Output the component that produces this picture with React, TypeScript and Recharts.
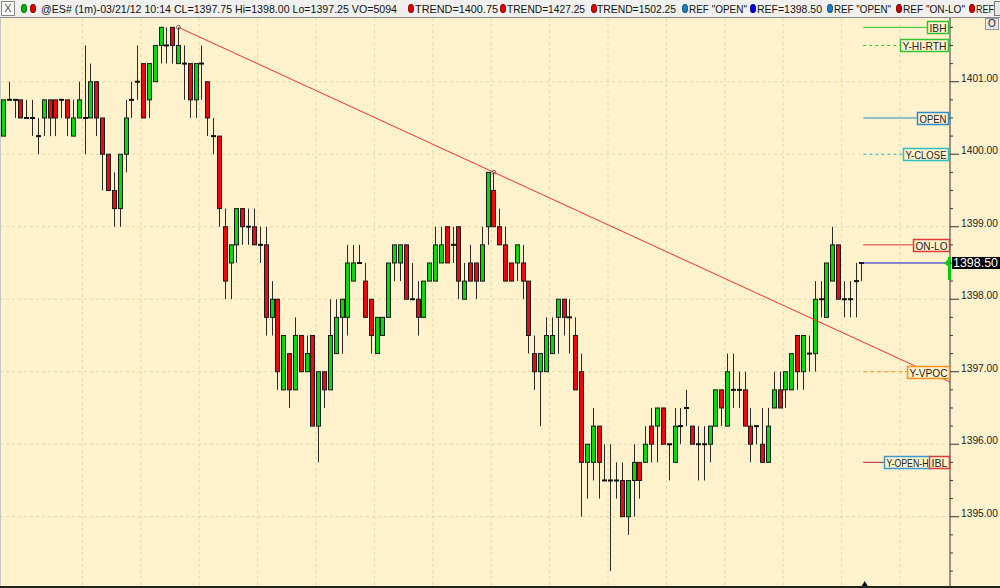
import React from 'react';
import { ComposedChart, Bar, XAxis, YAxis, CartesianGrid, ReferenceLine, ReferenceDot } from 'recharts';

// ---------- DATA ----------
const opens = [
  1400.25, 1400.75, 1400.75, 1400.75, 1400.5, 1400.5, 1400.25, 1400.5, 1400.75, 1400.75,
  1400.75, 1400.75, 1400.25, 1400.5, 1400.5, 1400.5, 1401, 1400.5, 1400, 1399.5,
  1399.25, 1400, 1400.75, 1401, 1401.25, 1400.75, 1401, 1401.5, 1401.5, 1401.75,
  1401.25, 1401.25, 1401.25, 1400.75, 1401.25, 1401, 1400.25, 1400.25, 1399, 1398.5,
  1398.75, 1399.25, 1399, 1399, 1398.75, 1398.75, 1397.75, 1398, 1396.75, 1397.25,
  1396.75, 1397.5, 1397, 1397.5, 1396.25, 1397, 1396.75, 1397.25, 1397.75, 1397.75,
  1398.25, 1398.5, 1398.25, 1398, 1397.25, 1397.5, 1397.75, 1398.5, 1398.5, 1398.75,
  1398, 1398, 1397.75, 1398.25, 1398.25, 1398.5, 1399, 1398.75, 1399, 1398,
  1398.5, 1398.5, 1398.25, 1399, 1399.5, 1399, 1398.75, 1398.5, 1398.5, 1398.5,
  1398.25, 1397.25, 1397, 1397, 1397.25, 1397.75, 1398, 1397.75, 1397.5, 1397,
  1395.75, 1395.75, 1396.25, 1395.5, 1395.5, 1395.5, 1395.5, 1395, 1395.5, 1395.75,
  1395.75, 1396.25, 1396.25, 1396.5, 1396, 1395.75, 1396.25, 1396.5, 1396.25, 1396,
  1396, 1396, 1396.25, 1396.75, 1396.25, 1396.75, 1396.75, 1396.75, 1396.25, 1396.25,
  1396, 1395.75, 1396.5, 1396.75, 1396.75, 1396.75, 1397.5, 1397, 1397.25, 1397.25,
  1398, 1397.75, 1398.25, 1398.75, 1398, 1398, 1398.25, 1398.5,
];
const highs = [
  1400.75, 1401, 1400.75, 1400.75, 1400.75, 1400.75, 1400.5, 1400.75, 1400.75, 1400.75,
  1400.75, 1400.75, 1400.75, 1401, 1401.5, 1401.25, 1401, 1400.5, 1400, 1399.75,
  1400, 1400.75, 1401, 1401.5, 1401.25, 1401.25, 1401.5, 1401.75, 1401.75, 1401.75,
  1401.75, 1401.5, 1401.25, 1401.25, 1401.5, 1401, 1400.5, 1400.25, 1399.25, 1398.75,
  1399.25, 1399.25, 1399.25, 1399.25, 1399, 1399, 1398.25, 1398, 1397.5, 1397.25,
  1397.75, 1397.5, 1397.5, 1397.5, 1397, 1397, 1398, 1398, 1398, 1398.75,
  1398.75, 1398.75, 1398.5, 1398, 1397.75, 1397.75, 1398.5, 1398.75, 1398.75, 1398.75,
  1398.5, 1398.25, 1398.25, 1398.5, 1399, 1399, 1399, 1399, 1399, 1398.5,
  1398.75, 1398.5, 1399, 1399.75, 1399.75, 1399.25, 1399, 1398.5, 1398.75, 1398.75,
  1398.25, 1397.5, 1397.25, 1397.75, 1397.75, 1398, 1398, 1398, 1397.75, 1397.25,
  1396, 1396.5, 1396.25, 1396, 1396, 1395.75, 1395.75, 1395.5, 1396, 1395.75,
  1396.25, 1396.5, 1396.5, 1396.5, 1396, 1396.5, 1396.5, 1396.75, 1396.25, 1396.25,
  1396.25, 1396.25, 1396.75, 1396.75, 1397.25, 1397.25, 1397, 1397, 1396.5, 1396.25,
  1396.5, 1396.5, 1397, 1397, 1397, 1397.25, 1397.5, 1397.5, 1397.5, 1398.25,
  1398.25, 1398.5, 1399, 1398.75, 1398.25, 1398.25, 1398.5, 1398.5,
];
const lows = [
  1400.25, 1400.75, 1400.5, 1400.5, 1400.5, 1400.25, 1400, 1400.25, 1400.25, 1400.25,
  1400.5, 1400.25, 1400.25, 1400.5, 1400, 1400.5, 1400.25, 1399.5, 1399.5, 1399,
  1399, 1399.75, 1400.5, 1400.75, 1400.5, 1400.5, 1401, 1401.25, 1401.25, 1401.25,
  1401.25, 1400.75, 1400.5, 1400.5, 1400.75, 1400.25, 1400, 1399, 1398, 1398,
  1398.5, 1398.75, 1398.75, 1398.75, 1398.5, 1397.5, 1397.5, 1396.75, 1396.75, 1396.5,
  1396.75, 1397, 1397, 1396.25, 1395.75, 1396.5, 1396.75, 1397.25, 1397.25, 1397.5,
  1398.25, 1398.5, 1397.75, 1397.25, 1397.25, 1397.5, 1397.75, 1398.25, 1398.25, 1398,
  1398, 1397.5, 1397.75, 1398.25, 1398.25, 1398.5, 1398.5, 1398.5, 1398, 1398,
  1398.25, 1398, 1398.25, 1398.75, 1399, 1398.75, 1398.25, 1398.25, 1398.25, 1398,
  1397.25, 1396.75, 1396.25, 1397, 1397.25, 1397.25, 1397.5, 1397.25, 1396.75, 1395,
  1395.25, 1395.5, 1395.25, 1395.5, 1394.25, 1395.25, 1395, 1394.75, 1395, 1395.25,
  1395.75, 1395.75, 1395.75, 1396, 1395.5, 1395.75, 1396, 1396.25, 1396, 1395.5,
  1395.5, 1395.75, 1396.25, 1396.25, 1396.25, 1396.5, 1396.5, 1396.25, 1395.75, 1396,
  1395.75, 1395.75, 1396.5, 1396.5, 1396.5, 1396.75, 1396.75, 1396.75, 1397, 1397,
  1397.75, 1397.75, 1398.25, 1398, 1397.75, 1397.75, 1397.75, 1398.25,
];
const closes = [
  1400.75, 1400.75, 1400.75, 1400.5, 1400.5, 1400.5, 1400.25, 1400.75, 1400.5, 1400.5,
  1400.75, 1400.5, 1400.5, 1400.75, 1400.5, 1401, 1400.5, 1400, 1399.5, 1399.25,
  1400, 1400.5, 1400.75, 1401, 1400.5, 1401.25, 1401.5, 1401.75, 1401.5, 1401.5,
  1401.5, 1401.25, 1400.75, 1401.25, 1401.25, 1400.5, 1400.25, 1399.25, 1398.25, 1398.75,
  1399.25, 1399, 1399, 1398.75, 1398.75, 1397.75, 1398, 1397, 1397.5, 1396.75,
  1397.5, 1397, 1397.25, 1396.25, 1397, 1396.75, 1397.5, 1397.75, 1398, 1398.5,
  1398.5, 1398.5, 1397.75, 1397.5, 1397.75, 1397.75, 1398.5, 1398.75, 1398.75, 1398,
  1398, 1397.75, 1398.25, 1398.5, 1398.75, 1398.75, 1398.5, 1398.75, 1398.25, 1398.25,
  1398.25, 1398.25, 1398.75, 1399.75, 1399, 1398.75, 1398.25, 1398.25, 1398.75, 1398.25,
  1397.5, 1397, 1397.25, 1397.5, 1397.5, 1398, 1397.75, 1397.75, 1396.75, 1395.75,
  1396, 1396.25, 1395.75, 1395.5, 1395.5, 1395.5, 1395, 1395.5, 1395.75, 1395.5,
  1396, 1396, 1396.5, 1396, 1396, 1396.25, 1396.25, 1396.5, 1396, 1396,
  1396, 1396.25, 1396.75, 1396.5, 1397, 1396.75, 1396.75, 1396.25, 1396, 1396.25,
  1395.75, 1396.25, 1396.75, 1396.5, 1397, 1397.25, 1397, 1397.5, 1397.25, 1398,
  1398, 1398.5, 1398.75, 1398, 1398, 1398, 1398.25, 1398.5,
];

const priceTicks = [
  1394.25, 1394.5, 1394.75, 1395, 1395.25, 1395.5, 1395.75, 1396, 1396.25, 1396.5, 1396.75,
  1397, 1397.25, 1397.5, 1397.75, 1398, 1398.25, 1398.5, 1398.75, 1399, 1399.25, 1399.5,
  1399.75, 1400, 1400.25, 1400.5, 1400.75, 1401, 1401.25, 1401.5, 1401.75,
];
const gridPrices = [1395, 1396, 1397, 1398, 1399, 1400, 1401];
const timeGridPositions = [13.55, 23.55, 33.55, 43.55, 53.55, 63.55, 73.55, 83.55, 93.55, 103.55, 113.55, 123.55, 133.55, 143.55, 153.55];

const levelNames = ['IBH', 'Y-HI-RTH', 'OPEN', 'Y-CLOSE', 'ON-LO', 'Y-VPOC', 'Y-OPEN-H', 'IBL'];
const levelPrices = [1401.75, 1401.5, 1400.5, 1400, 1398.75, 1397, 1395.75, 1395.75];
const lastPrice = 1398.5;
const trendIdx = [30, 84];
const trendPrice = [1401.75, 1399.75];

const headerTexts = [
  '@ES# (1m)-03/21/12 10:14 CL=1397.75 Hi=1398.00 Lo=1397.25 VO=5094',
  'TREND=1400.75', 'TREND=1427.25', 'TREND=1502.25',
  'REF "OPEN"', 'REF=1398.50', 'REF "OPEN"', 'REF "ON-LO"', 'REF',
];

// ---------- STYLE / LAYOUT ----------
const X_DOMAIN: [number, number] = [-0.565, 162.1];
const Y_DOMAIN: [number, number] = [1394.017, 1401.879];
const BG = '#FFF2CC';
const GRID = '#E8D8A8';
const UP = '#00DD00';
const DOWN = '#EE0A0A';

const headerTextX = [41, 415, 507, 597, 689, 757, 834, 903, 976];
const headerTextW = [356, 83, 78, 79, 58, 65, 57, 62, 18];
const headerDots = [
  { x: 21, c: '#00B400' }, { x: 29.5, c: '#E00000' },
  { x: 407.5, c: '#E00000' }, { x: 500, c: '#E00000' }, { x: 591, c: '#E00000' },
  { x: 682, c: '#1C7FC4' }, { x: 749.5, c: '#0000E6' }, { x: 827, c: '#1C7FC4' },
  { x: 896, c: '#C80000' }, { x: 968.5, c: '#E00000' },
];

const levelStyles = [
  { color: '#33C233', dash: undefined, left: -23, right: -2 },
  { color: '#33C233', dash: '3 3', left: -50, right: -2 },
  { color: '#2B8CC8', dash: undefined, left: -33, right: -2 },
  { color: '#2CC0C0', dash: '3 3', left: -47, right: -2 },
  { color: '#E03A3A', dash: undefined, left: -37, right: -1 },
  { color: '#FF9022', dash: '4 3', left: -43, right: -1 },
  { color: '#3A9AD0', dash: undefined, left: -66, right: -20 },
  { color: '#E03A3A', dash: undefined, left: -21, right: -1 },
];
const LEVEL_START = 147.25;

const candles = opens.map((o, i) => ({ i, o, h: highs[i], l: lows[i], c: closes[i] }));
const lastIdx = candles.length - 1;
const trendSlope = (trendPrice[1] - trendPrice[0]) / (trendIdx[1] - trendIdx[0]);
const trendEnd = trendPrice[0] + (X_DOMAIN[1] - trendIdx[0]) * trendSlope;

const Candle = (props: any) => {
  const { x, y, width, height, payload } = props;
  if (!payload) return null;
  const { o, h, l, c } = payload;
  const ppu = h > l ? height / (h - l) : 0;
  const yOf = (p: number) => y + (h - p) * ppu;
  const cx = Math.round(x + width / 2);
  const wx = cx + 0.5;
  const els: any[] = [];
  els.push(<line key="w" x1={wx} x2={wx} y1={yOf(h)} y2={yOf(l)} stroke="#2a2a2a" strokeWidth={1} />);
  if (o === c) {
    els.push(<line key="d" x1={cx - 2} x2={cx + 3} y1={yOf(o)} y2={yOf(o)} stroke="#111" strokeWidth={2} />);
  } else {
    const top = yOf(Math.max(o, c));
    const bot = yOf(Math.min(o, c));
    els.push(
      <rect key="b" x={cx - 1.5} y={top} width={4} height={bot - top} fill={c > o ? UP : DOWN} stroke="#1a1a1a" strokeWidth={1} />
    );
  }
  return <g>{els}</g>;
};

const PriceTick = (props: any) => {
  const { x, y, payload } = props;
  const v = payload.value;
  const major = Math.abs(v - Math.round(v)) < 1e-6;
  return (
    <g>
      <line x1={x} x2={x + (major ? 9 : 3)} y1={y} y2={y} stroke="#333" strokeWidth={1} />
      {major && (
        <text x={x + 11} y={y} fontSize={10.5} fill="#222" fontFamily='"Liberation Sans", Arial, sans-serif' textLength={37} lengthAdjust="spacingAndGlyphs">
          {v.toFixed(2)}
        </text>
      )}
    </g>
  );
};

const LevelBox = ({ cx, cy, k }: any) => {
  const st = levelStyles[k];
  const x0 = cx + st.left;
  const w = st.right - st.left;
  const yy = Math.round(cy) + 0.5;
  return (
    <g>
      <rect x={x0 + 0.5} y={yy - 6} width={w} height={12} fill={BG} stroke={st.color} strokeWidth={1.5} />
      <text x={x0 + 2.5} y={yy + 4} fontSize={11} fill="#222" fontFamily='"Liberation Sans", Arial, sans-serif' textLength={w - 4} lengthAdjust="spacingAndGlyphs">
        {levelNames[k]}
      </text>
    </g>
  );
};

const PriceMarker = ({ cx, cy }: any) => (
  <g>
    <polygon points={`${cx - 6},${cy} ${cx + 1},${cy - 6} ${cx + 1},${cy + 6}`} fill="#00CC00" />
    <rect x={cx - 2} y={cy - 6} width={3} height={23} fill="#00CC00" />
    <rect x={cx + 2} y={cy - 6} width={48} height={12} fill="#000" />
    <text x={cx + 3} y={cy + 4.5} fontSize={12} fill="#fff" fontFamily='"Liberation Sans", Arial, sans-serif' textLength={45} lengthAdjust="spacingAndGlyphs">
      {lastPrice.toFixed(2)}
    </text>
  </g>
);

const BarMarker = ({ cx, cy }: any) => (
  <polygon points={`${cx - 3.5},${cy - 1} ${cx + 3.5},${cy - 1} ${cx},${cy - 7}`} fill="#000" />
);

const AnchorDot = ({ cx, cy }: any) => <circle cx={cx} cy={cy} r={2} fill="none" stroke="#666" strokeWidth={1} />;

export default function App() {
  return (
    <div style={{ position: 'absolute', left: 0, top: 0, width: 1000, height: 588, background: BG, overflow: 'hidden', fontFamily: '"Liberation Sans", Arial, sans-serif' }}>
      {/* header */}
      <div style={{ position: 'absolute', left: 0, top: 0, width: 1000, height: 17, background: '#F0F0EE', borderBottom: '1px solid #8a8a8a' }}>
        <div style={{ position: 'absolute', left: 1, top: 1, width: 12, height: 13, border: '1px solid #888', background: '#fafafa', fontSize: 11, lineHeight: '13px', textAlign: 'center', color: '#555' }}>X</div>
        {headerDots.map((d, k) => (
          <div key={'d' + k} style={{ position: 'absolute', left: d.x, top: 4, width: 6, height: 9, borderRadius: '50%', background: d.c, boxShadow: 'inset 0 0 0 1px rgba(0,0,0,0.35)' }} />
        ))}
        <svg width={1000} height={17} style={{ position: 'absolute', left: 0, top: 0 }}>
          {headerTexts.map((t, k) => (
            <text key={'t' + k} x={headerTextX[k]} y={12.5} fontSize={11} fill="#111" fontFamily='"Liberation Sans", Arial, sans-serif' textLength={headerTextW[k]} lengthAdjust="spacingAndGlyphs" style={{ whiteSpace: 'pre' }}>
              {t}
            </text>
          ))}
        </svg>
        <div style={{ position: 'absolute', left: 994, top: 1, width: 10, height: 13, border: '1px solid #777', background: '#e8e8e8' }} />
      </div>
      {/* chart */}
      <div style={{ position: 'absolute', left: 0, top: 18 }}>
        <ComposedChart width={1000} height={570} data={candles} margin={{ top: 0, right: 0, bottom: 0, left: 0 }}>
          <CartesianGrid stroke={GRID} strokeDasharray="3 3" horizontalValues={gridPrices} verticalValues={timeGridPositions} />
          <XAxis dataKey="i" type="number" domain={X_DOMAIN} allowDataOverflow hide />
          <YAxis
            orientation="right"
            width={50}
            type="number"
            domain={Y_DOMAIN}
            allowDataOverflow
            ticks={priceTicks}
            interval={0}
            tickSize={0}
            tickMargin={0}
            tickLine={false}
            axisLine={{ stroke: '#333', strokeWidth: 1 }}
            tick={<PriceTick />}
          />
          <Bar dataKey={(d: any) => [d.l, d.h]} barSize={5} shape={<Candle />} isAnimationActive={false} />
          <ReferenceLine
            segment={[{ x: trendIdx[0], y: trendPrice[0] }, { x: X_DOMAIN[1], y: trendEnd }]}
            stroke="#FF3030"
            strokeWidth={1}
            ifOverflow="visible"
          />
          <ReferenceDot x={trendIdx[0]} y={trendPrice[0]} ifOverflow="visible" shape={(p: any) => <AnchorDot {...p} />} />
          <ReferenceDot x={trendIdx[1]} y={trendPrice[1]} ifOverflow="visible" shape={(p: any) => <AnchorDot {...p} />} />
          {levelPrices.map((p, k) => (
            <ReferenceLine
              key={'l' + k}
              segment={[{ x: LEVEL_START, y: p }, { x: X_DOMAIN[1], y: p }]}
              stroke={levelStyles[k].color}
              strokeDasharray={levelStyles[k].dash}
              strokeWidth={1}
              ifOverflow="visible"
            />
          ))}
          <ReferenceLine
            segment={[{ x: lastIdx, y: lastPrice }, { x: X_DOMAIN[1], y: lastPrice }]}
            stroke="#1010CC"
            strokeWidth={1}
            ifOverflow="visible"
          />
          {levelPrices.map((p, k) => (
            <ReferenceDot key={'b' + k} x={X_DOMAIN[1]} y={p} ifOverflow="visible" shape={(sp: any) => <LevelBox {...sp} k={k} />} />
          ))}
          <ReferenceDot x={X_DOMAIN[1]} y={lastPrice} ifOverflow="visible" shape={(sp: any) => <PriceMarker {...sp} />} />
          <ReferenceDot x={lastIdx + 0.5} y={Y_DOMAIN[0]} ifOverflow="visible" shape={(sp: any) => <BarMarker {...sp} />} />
        </ComposedChart>
      </div>
      <div style={{ position: 'absolute', left: 0, top: 18, width: 1, height: 570, background: '#c8c8c8' }} />
      <div style={{ position: 'absolute', left: 0, top: 586, width: 1000, height: 2, background: '#222' }} />
      <div style={{ position: 'absolute', left: 985, top: 18, width: 12, height: 10, border: '1px solid #999', background: '#e6e6e6', fontSize: 10, lineHeight: '10px', textAlign: 'center', color: '#222' }}>O</div>
    </div>
  );
}
